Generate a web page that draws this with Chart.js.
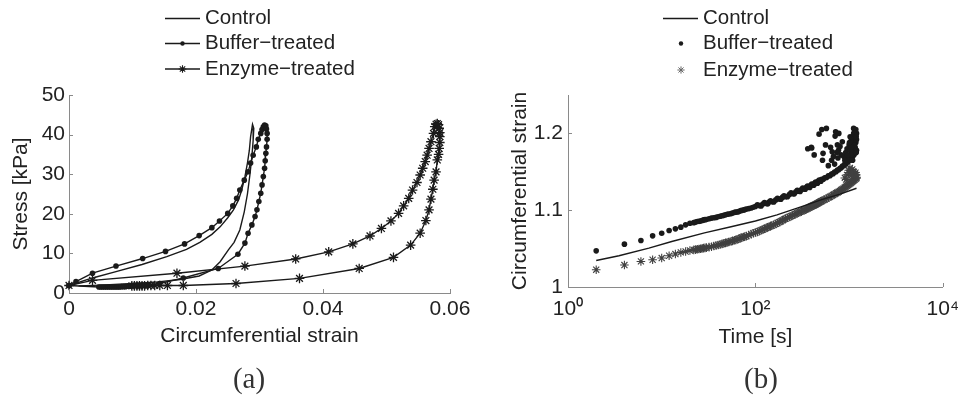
<!DOCTYPE html>
<html><head><meta charset="utf-8">
<script src="https://cdn.jsdelivr.net/npm/chart.js@4.4.1/dist/chart.umd.min.js"></script>
<style>
html,body{margin:0;padding:0;background:#fff;}
#wrap{position:relative;width:969px;height:395px;overflow:hidden;background:#fff;}
.pane{position:absolute;top:0;height:395px;}
.cap{position:absolute;width:100px;text-align:center;font-family:'Liberation Serif','Times New Roman',serif;font-size:29px;line-height:30px;color:#333;}
</style></head><body>
<div id="wrap">
<div class="pane" style="left:0;width:484px"><canvas id="chartA"></canvas></div>
<div class="pane" style="left:484px;width:485px"><canvas id="chartB"></canvas></div>
<div class="cap" style="left:199px;top:363px">(a)</div>
<div class="cap" style="left:711px;top:363px">(b)</div>
</div>
<script>
// ---------- (a) stress vs circumferential strain ----------
const seriesLabels = ['Control', 'Buffer\u2212treated', 'Enzyme\u2212treated'];

const ctrlStrain = [0,0.0037,0.0074,0.0115,0.0154,0.0185,0.0206,0.0225,0.0238,0.0250,0.0259,0.0267,0.0272,0.0277,0.0281,0.0284,0.0286,0.0289,
  0.0291,0.0290,0.0288,0.0285,0.0281,0.0276,0.0269,0.0260,0.0251,0.0238,0.0225,0.0205,0.0175,0.0140,0.0100,0.0050,0.0015];
const ctrlStress = [1.9,3.8,5.4,7.2,9.2,11.0,12.8,14.8,16.7,19.0,21.0,23.5,26.0,29.3,32.8,36.0,39.5,42.6,
  41.6,38.5,34.5,30.0,25.0,20.5,15.9,12.8,10.9,7.9,5.8,4.3,3.4,2.8,2.4,2.0,1.8];

const bufStrain = [0,0.0011,0.0037,0.0074,0.0116,0.0152,0.0182,0.0205,0.0225,0.0237,0.0250,0.0258,0.0264,0.0269,0.0276,0.0282,0.0286,0.0290,0.0295,0.0298,0.0302,0.0304,0.0306,0.0308,0.0310,
  0.0311,0.0312,0.0312,0.0311,0.0310,0.0309,0.0308,0.0306,0.0304,0.0302,0.0299,0.0296,0.0293,0.0288,0.0282,0.0277,0.0266,0.0235,0.0180,0.0143,0.0125,
  0.0115,0.0108,0.0102,0.0097,0.0093,0.0089,0.0086,0.0083,0.0080,0.0077,0.0074,0.0071,0.0068,0.0065,0.0062,0.0059,0.0056,0.0053,0.0050,0.0047,0];
const bufStress = [1.9,2.9,5.0,6.8,8.7,10.5,12.4,14.5,16.5,18.2,20.1,22.0,23.9,26.0,28.5,30.6,32.8,34.8,36.9,38.8,40.3,41.3,42.0,42.4,42.2,
  41.4,40.3,38.8,36.9,35.3,33.4,31.5,29.4,27.3,25.2,23.1,21.0,19.3,17.2,15.1,12.6,9.8,6.2,3.8,2.4,2.0,
  1.9,1.8,1.8,1.7,1.7,1.6,1.6,1.6,1.5,1.5,1.5,1.5,1.5,1.5,1.5,1.5,1.5,1.5,1.5,1.5,1.9];

const enzStrain = [0,0.0037,0.0170,0.0277,0.0357,0.0409,0.0447,0.0474,0.0492,0.0507,0.0519,0.0527,0.0535,0.0541,0.0548,0.0553,0.0557,0.0561,0.0564,0.0567,0.0570,0.0574,0.0576,0.0578,0.0580,0.0582,
  0.0583,0.0584,0.0584,0.0584,0.0583,0.0582,0.0580,0.0578,0.0575,0.0573,0.0570,0.0567,0.0562,0.0553,0.0538,0.0511,0.0457,0.0363,0.0263,0.0180,
  0.0155,0.0143,0.0135,0.0129,0.0124,0.0119,0.0115,0.0111,0.0107,0.0103,0.0099];
const enzStress = [1.9,3.2,5.0,6.8,8.6,10.4,12.4,14.4,16.3,18.2,20.1,22.0,23.9,26.0,27.9,29.8,31.5,33.2,34.8,36.5,38.2,40.3,42.0,42.6,42.8,42.5,
  41.6,40.5,39.5,38.0,36.5,35.0,33.6,30.6,28.5,26.2,23.7,21.0,18.3,15.1,12.1,9.0,6.2,3.7,2.4,1.9,
  1.9,1.9,1.9,1.9,1.9,1.8,1.8,1.8,1.8,1.8,1.8];

const strainTicks = [0, 0.02, 0.04, 0.06];
const strainTickLabels = ['0', '0.02', '0.04', '0.06'];
const stressTicks = [0, 10, 20, 30, 40, 50];
const stressTickLabels = ['0', '10', '20', '30', '40', '50'];

// ---------- (b) circumferential strain vs time ----------
const ctrlTime = [2,3.5,7.3,12.8,28.6,55,100,170,300,520,800,1200];
const ctrlCirc = [1.0345,1.0407,1.0506,1.0593,1.0705,1.0785,1.086,1.094,1.104,1.114,1.121,1.1286];

const bandTime = [2,4,6,8,10,12,14,16,18,20,22,24,26,28,30,34,38,42,46,50,55,60,65,70,75,80,90,100,110,120,130,140,150,165,180,195,210,
  230,250,270,290,310,330,350,370,390,410,430,450,470,490,510,530,550,575,600,625,650,675,700,725,750,775,800,825,850,875,900,925,950,975,1000,1025,1050,1075,1100,1125,1150,1175,1200];
const bufCirc = [1.0471,1.0558,1.0605,1.0666,1.0699,1.0735,1.0757,1.0779,1.0809,1.0831,1.0838,1.0852,1.0858,1.0874,1.0879,1.0897,1.0906,1.0922,1.0933,1.0947,
  1.0956,1.0972,1.0978,1.0994,1.1002,1.1014,1.1028,1.1049,1.1060,1.1081,1.1088,1.1106,1.1110,1.1134,1.1145,1.1170,1.1176,
  1.1205,1.1214,1.1241,1.1246,1.1270,1.1276,1.1298,1.1300,1.1325,1.1328,1.1352,1.1354,1.1378,1.1380,1.1402,1.1403,1.1422,
  1.1426,1.1447,1.1450,1.1472,1.1476,1.1497,1.1500,1.1522,1.1526,1.1547,1.1552,1.1575,1.1578,1.1600,1.1603,1.1626,1.1630,1.1652,1.1657,1.1682,1.1687,1.1712,1.1718,1.1745,1.1755,1.1780];
const enzCirc = [1.0225,1.0286,1.0333,1.0355,1.0377,1.0407,1.0429,1.0450,1.0462,1.0475,1.0483,1.0491,1.0499,1.0506,1.0513,1.0525,1.0540,1.0553,1.0568,1.0580,
  1.0595,1.0609,1.0622,1.0640,1.0652,1.0663,1.0688,1.0709,1.0728,1.0748,1.0768,1.0785,1.0800,1.0822,1.0845,1.0868,1.0890,
  1.0912,1.0932,1.0952,1.0970,1.0985,1.1000,1.1015,1.1030,1.1045,1.1058,1.1070,1.1082,1.1095,1.1108,1.1120,1.1130,1.1140,
  1.1152,1.1163,1.1175,1.1187,1.1198,1.1210,1.1220,1.1230,1.1242,1.1252,1.1263,1.1275,1.1285,1.1296,1.1307,1.1318,1.1328,1.1338,1.1348,1.1358,1.1370,1.1380,1.1390,1.1400,1.1410,1.1418];

// extra samples where the marks merge into a dense band
const bandTime2 = [23,25,27,29,32,36,40,44,48,52,57,62,67,72,77,85,95,105,115,125,135,145,157,172,187,202,220,240,260,280,300,320,340,360,380,400,420,440,460,480,500];
const bufCirc2 = [1.0845,1.0855,1.0866,1.0877,1.0888,1.0902,1.0914,1.0928,1.0940,1.0951,1.0964,1.0975,1.0986,1.0998,1.1008,1.1021,1.1038,
  1.1070,1.1055,1.1099,1.1082,1.1123,1.1107,1.1155,1.1143,1.1188,1.1175,1.1225,1.1213,1.1258,1.1243,1.1288,1.1272,1.1314,1.1297,1.1341,1.1325,1.1368,1.1351,1.1394,1.1376];
const enzCirc2 = [1.0487,1.0495,1.0503,1.0510,1.0519,1.0533,1.0547,1.0561,1.0574,1.0586,1.0601,1.0614,1.0630,1.0645,1.0656,1.0676,1.0699,
  1.0718,1.0738,1.0758,1.0777,1.0793,1.0811,1.0833,1.0856,1.0880,1.0901,1.0922,1.0942,1.0961,1.0978,1.0993,1.1008,1.1022,1.1038,1.1052,1.1064,1.1076,1.1089,1.1101,1.1114];

const bufScatterTime = [362,399,424,395,511,572,478,718,709,777,527,560,634,770,846,1117,1143,1025,880,920,950,980,1000,1020,1050,1060,1080,1100,1110,1130,
  1150,1160,1170,1180,1190,1200,1200,1180,900,960,1040,1090,700,650,760,820,600,680,740,520,660,750,800,1120,1140,1190,1060,1010];
const bufScatterCirc = [1.180,1.181,1.172,1.182,1.205,1.2065,1.199,1.202,1.1965,1.200,1.174,1.185,1.182,1.178,1.189,1.2065,1.198,1.1956,1.170,1.175,
  1.180,1.168,1.185,1.178,1.190,1.172,1.195,1.185,1.178,1.190,1.195,1.182,1.200,1.188,1.175,1.192,1.200,1.205,1.165,1.172,
  1.183,1.165,1.160,1.165,1.168,1.172,1.158,1.170,1.175,1.165,1.176,1.185,1.183,1.200,1.185,1.196,1.182,1.188];
const enzScatterTime = [990,1050,1100,950,1020,1150,1200,900,1080,1120,1000,1060,1170,930,1190];
const enzScatterCirc = [1.152,1.150,1.148,1.146,1.155,1.147,1.143,1.142,1.153,1.150,1.149,1.145,1.149,1.140,1.146];

const timeTicks = [1, 100, 10000];
const timeTickLabels = ['10\u2070', '10\u00B2', '10\u2074'];
const circTicks = [1, 1.1, 1.2];
const circTickLabels = ['1', '1.1', '1.2'];

// ---------- rendering ----------
const INK = '#1a1a1a';
const AXIS = '#8a8a8a';
const FONT = "'Liberation Sans', Arial, sans-serif";
Chart.defaults.font.family = FONT;
Chart.defaults.font.size = 21;
Chart.defaults.color = '#222';

const toXY = (xs, ys) => xs.map((x, i) => ({x: x, y: ys[i]}));

function drawMark(ctx, style, x, y, r, color, lw) {
  ctx.save();
  if (style === 'circle') {
    ctx.fillStyle = color; ctx.beginPath(); ctx.arc(x, y, r, 0, Math.PI * 2); ctx.fill();
  } else if (style === 'star') {
    ctx.strokeStyle = color; ctx.lineWidth = lw; ctx.beginPath();
    for (let k = 0; k < 4; k++) {
      const a = k * Math.PI / 4;
      ctx.moveTo(x + Math.cos(a) * r, y + Math.sin(a) * r);
      ctx.lineTo(x - Math.cos(a) * r, y - Math.sin(a) * r);
    }
    ctx.stroke();
  }
  ctx.restore();
}

const innerTicks = {
  id: 'innerTicks',
  afterDraw(chart) {
    const ctx = chart.ctx, ca = chart.chartArea, sx = chart.scales.x, sy = chart.scales.y;
    ctx.save(); ctx.strokeStyle = AXIS; ctx.lineWidth = 1;
    sx.ticks.forEach((t, i) => {
      const p = Math.round(sx.getPixelForTick(i)) + 0.5;
      ctx.beginPath(); ctx.moveTo(p, ca.bottom); ctx.lineTo(p, ca.bottom - 4); ctx.stroke();
    });
    sy.ticks.forEach((t, i) => {
      const p = Math.round(sy.getPixelForTick(i)) + 0.5;
      ctx.beginPath(); ctx.moveTo(ca.left, p); ctx.lineTo(ca.left + 4, p); ctx.stroke();
    });
    ctx.restore();
  }
};

const miniLegend = {
  id: 'miniLegend',
  afterDraw(chart, args, o) {
    const ctx = chart.ctx;
    chart.data.datasets.forEach((ds, i) => {
      const y = o.rows[i], it = o.items[i];
      if (it.line) {
        ctx.save(); ctx.strokeStyle = INK; ctx.lineWidth = 1.3;
        ctx.beginPath(); ctx.moveTo(o.x0, y); ctx.lineTo(o.x1, y); ctx.stroke(); ctx.restore();
      }
      if (it.mark) drawMark(ctx, it.mark, o.mx, y, it.r, it.color, it.lw || 1);
      ctx.save(); ctx.fillStyle = '#222'; ctx.font = "20.5px " + FONT;
      ctx.textBaseline = 'middle'; ctx.textAlign = 'left';
      ctx.fillText(ds.label, o.tx, y); ctx.restore();
    });
  }
};

function fixedTicks(vals) { return (s) => { s.ticks = vals.map(v => ({value: v})); }; }
const noGrid = {display: false, drawTicks: false, tickLength: 0};

new Chart(document.getElementById('chartA'), {
  type: 'scatter',
  data: {datasets: [
    {label: seriesLabels[0], data: toXY(ctrlStrain, ctrlStress), showLine: true, borderColor: INK, borderWidth: 1.4, pointRadius: 0, clip: false},
    {label: seriesLabels[1], data: toXY(bufStrain, bufStress), showLine: true, borderColor: INK, borderWidth: 1.4,
     pointStyle: 'circle', pointRadius: 2.8, pointBackgroundColor: INK, pointBorderWidth: 0, clip: false},
    {label: seriesLabels[2], data: toXY(enzStrain, enzStress), showLine: true, borderColor: INK, borderWidth: 1.4,
     pointStyle: 'star', pointRadius: 4.8, pointBorderColor: INK, pointBorderWidth: 1.3, clip: false}
  ]},
  options: {
    responsive: true, maintainAspectRatio: false, animation: false, events: [],
    layout: {padding: {top: 95, right: 34, left: 0, bottom: 0}},
    plugins: {legend: {display: false}, tooltip: {enabled: false},
      miniLegend: {x0: 165, x1: 200, mx: 182.5, tx: 205, rows: [18.5, 43.5, 69],
        items: [{line: true}, {line: true, mark: 'circle', r: 2.2, color: INK}, {line: true, mark: 'star', r: 3.8, color: INK, lw: 1.1}]}},
    scales: {
      x: {type: 'linear', min: 0, max: 0.06, bounds: 'data',
        afterBuildTicks: fixedTicks(strainTicks), afterFit: (s) => { s.height = 102; },
        grid: noGrid, border: {display: true, color: AXIS, width: 1},
        ticks: {autoSkip: false, maxRotation: 0, padding: 4, callback: (v, i) => strainTickLabels[i]},
        title: {display: true, text: 'Circumferential strain', padding: {top: 0, bottom: 46}}},
      y: {type: 'linear', min: 0, max: 50, bounds: 'data',
        afterBuildTicks: fixedTicks(stressTicks), afterFit: (s) => { s.width = 69; },
        grid: noGrid, border: {display: true, color: AXIS, width: 1},
        ticks: {autoSkip: false, padding: 4, callback: (v, i) => stressTickLabels[i]},
        title: {display: true, text: 'Stress [kPa]', padding: {top: 9, bottom: 0}}}
    }
  },
  plugins: [innerTicks, miniLegend]
});

new Chart(document.getElementById('chartB'), {
  type: 'scatter',
  data: {datasets: [
    {label: seriesLabels[0], data: toXY(ctrlTime, ctrlCirc), showLine: true, borderColor: INK, borderWidth: 1.4, pointRadius: 0},
    {label: seriesLabels[1], data: toXY(bandTime.concat(bandTime2, bufScatterTime), bufCirc.concat(bufCirc2, bufScatterCirc)), showLine: false,
     pointStyle: 'circle', pointRadius: 2.8, pointBackgroundColor: INK, pointBorderWidth: 0, clip: false},
    {label: seriesLabels[2], data: toXY(bandTime.concat(bandTime2, enzScatterTime), enzCirc.concat(enzCirc2, enzScatterCirc)), showLine: false,
     pointStyle: 'star', pointRadius: 4.3, pointBorderColor: '#404040', pointBorderWidth: 1.1, clip: false}
  ]},
  options: {
    responsive: true, maintainAspectRatio: false, animation: false, events: [],
    layout: {padding: {top: 95, right: 20, left: 0, bottom: 0}},
    plugins: {legend: {display: false}, tooltip: {enabled: false},
      miniLegend: {x0: 179, x1: 214, mx: 197, tx: 219, rows: [18.5, 43.5, 70],
        items: [{line: true}, {mark: 'circle', r: 2.2, color: INK}, {mark: 'star', r: 3.6, color: '#666', lw: 1}]}},
    scales: {
      x: {type: 'logarithmic', min: 1, max: 10000, bounds: 'data',
        afterBuildTicks: fixedTicks(timeTicks), afterFit: (s) => { s.height = 108; },
        grid: noGrid, border: {display: true, color: AXIS, width: 1},
        ticks: {autoSkip: false, maxRotation: 0, padding: 10, callback: (v, i) => timeTickLabels[i]},
        title: {display: true, text: 'Time [s]', padding: {top: 0, bottom: 45}}},
      y: {type: 'linear', min: 1, max: 1.25, bounds: 'data',
        afterBuildTicks: fixedTicks(circTicks), afterFit: (s) => { s.width = 84; },
        grid: noGrid, border: {display: true, color: AXIS, width: 1},
        ticks: {autoSkip: false, padding: 5, callback: (v, i) => circTickLabels[i]},
        title: {display: true, text: 'Circumferential strain', padding: {top: 24, bottom: 0}}}
    }
  },
  plugins: [innerTicks, miniLegend]
});
</script>
</body></html>
